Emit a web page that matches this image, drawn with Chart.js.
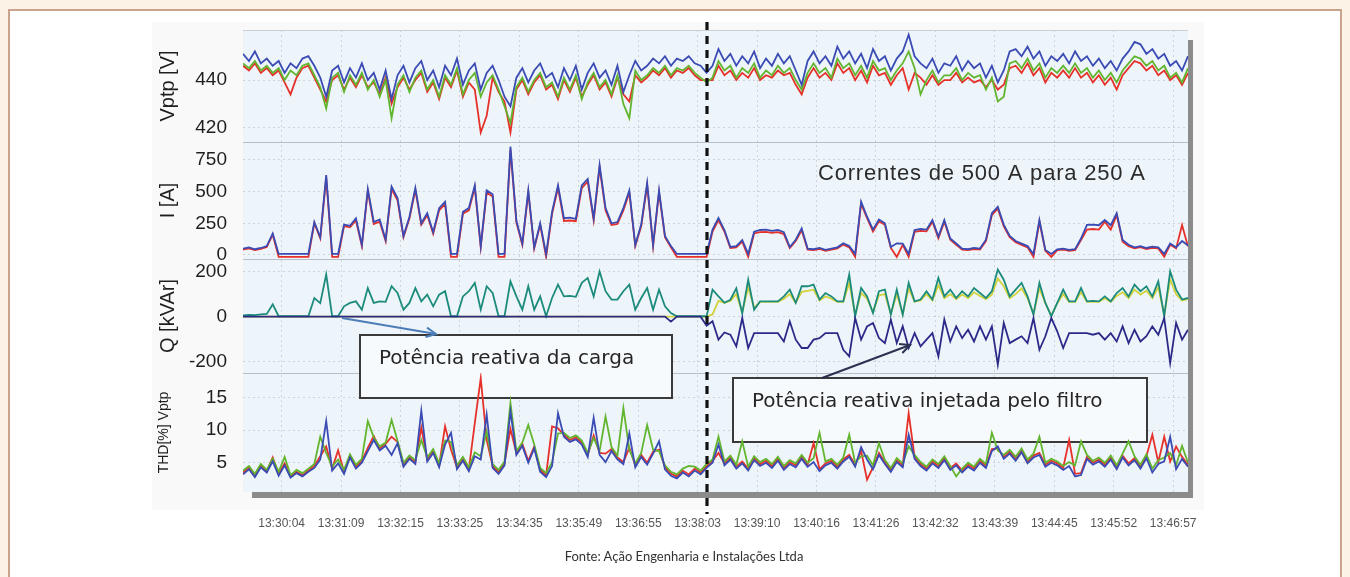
<!DOCTYPE html>
<html>
<head>
<meta charset="utf-8">
<script src="https://cdn.jsdelivr.net/npm/chart.js@4.4.1/dist/chart.umd.min.js"></script>
<style>
  html, body { margin: 0; padding: 0; }
  body { width: 1350px; height: 577px; background: #fcf2e6; position: relative; overflow: hidden; }
  #frame { position: absolute; left: 8px; top: 9px; width: 1330px; height: 600px; background: #fff; border: 2px solid #c9a38b; }
  #plot { position: absolute; left: 0; top: 0; }
  #fonte { position: absolute; left: 0; width: 1368px; top: 548px; text-align: center; font: 13px Lato, "Open Sans", sans-serif; color: #333; }
</style>
</head>
<body>
<div id="frame"></div>
<canvas id="plot" width="1350" height="577"></canvas>
<div id="fonte">Fonte: Ação Engenharia e Instalações Ltda</div>
<script>
// Time axis: one sample every few seconds, a time stamp every 10 samples
const timeLabels = ['13:30:04', '13:31:09', '13:32:15', '13:33:25', '13:34:35', '13:35:49', '13:36:55', '13:38:03',
                    '13:39:10', '13:40:16', '13:41:26', '13:42:32', '13:43:39', '13:44:45', '13:45:52', '13:46:57'];
const firstLabelAt = 6.5;
const labelEvery = 10;
const switchAt = 78.1;           // sample where the filter is switched on

// Phase-to-phase voltage [V]
const vptpA = [
  446, 444, 447, 443, 445, 442, 444, 439, 434, 441,
  445, 446, 441, 436, 431, 440, 442, 436, 441, 437,
  442, 437, 439, 434, 441, 430, 437, 441, 436, 440,
  443, 435, 439, 432, 441, 437, 444, 433, 439, 436,
  418, 425, 441, 435, 431, 418, 436, 440, 434, 439,
  442, 436, 438, 432, 440, 435, 441, 433, 438, 442,
  436, 439, 433, 441, 434, 431, 442, 439, 441, 444,
  442, 445, 441, 444, 443, 445, 442, 440, 440, 440,
  446, 442, 444, 440, 443, 441, 445, 440, 442, 441,
  444, 442, 443, 438, 434, 441, 445, 441, 443, 440,
  447, 443, 445, 440, 444, 439, 446, 442, 443, 438,
  442, 445, 436, 443, 441, 438, 442, 438, 440, 440,
  443, 439, 441, 439, 440, 437, 440, 436, 438, 445,
  446, 443, 447, 442, 445, 439, 443, 441, 444, 441,
  445, 441, 443, 439, 442, 438, 441, 436, 442, 445,
  448, 447, 444, 446, 442, 444, 440, 442, 438, 443
];
const vptpB = [
  447, 445, 448, 444, 446, 443, 445, 440, 444, 442,
  446, 447, 442, 437, 428, 441, 443, 435, 442, 438,
  443, 436, 440, 433, 440, 424, 438, 442, 435, 441,
  444, 436, 440, 433, 442, 438, 445, 434, 440, 443,
  433, 439, 442, 436, 429, 422, 437, 441, 435, 440,
  443, 437, 439, 433, 441, 436, 442, 432, 439, 443,
  437, 440, 434, 442, 430, 424, 444, 440, 442, 445,
  443, 446, 442, 445, 444, 446, 443, 441, 439, 441,
  448, 444, 446, 441, 445, 443, 447, 441, 444, 442,
  446, 443, 445, 440, 436, 443, 447, 443, 445, 441,
  449, 445, 447, 442, 446, 441, 448, 444, 445, 440,
  444, 447, 452, 445, 434, 440, 444, 439, 442, 442,
  445, 440, 443, 441, 442, 436, 441, 431, 433, 447,
  448, 445, 449, 444, 447, 441, 445, 443, 446, 443,
  447, 443, 445, 441, 444, 440, 443, 439, 444, 447,
  450, 449, 446, 448, 444, 446, 441, 443, 439, 445
];
const vptpC = [
  451, 448, 452, 447, 449, 446, 448, 443, 447, 445,
  449, 450, 446, 441, 433, 444, 446, 439, 445, 441,
  447, 440, 443, 436, 444, 432, 442, 446, 439, 445,
  448, 440, 444, 437, 446, 442, 449, 438, 444, 447,
  436, 443, 446, 440, 433, 429, 441, 445, 439, 444,
  447, 441, 443, 437, 445, 440, 446, 436, 443, 447,
  441, 444, 438, 446, 435, 442, 448, 444, 446, 449,
  447, 450, 446, 449, 448, 450, 447, 446, 443, 446,
  453, 448, 451, 446, 450, 447, 452, 445, 449, 446,
  451, 447, 450, 444, 438, 448, 452, 447, 450, 446,
  454, 449, 452, 447, 451, 445, 453, 448, 450, 444,
  449, 452, 459, 450, 447, 445, 449, 443, 447, 446,
  450, 444, 448, 445, 447, 441, 446, 439, 444, 452,
  453, 450, 454, 449, 452, 446, 450, 448, 451, 447,
  452, 448, 450, 446, 449, 445, 448, 444, 449, 452,
  456, 455, 451, 453, 449, 451, 446, 448, 444, 450
];

// Line current [A]
const currA = [
  42, 52, 38, 47, 62, 160, -15, -15, -15, -15,
  -15, -15, 250, 130, 610, -15, -15, 228, 218, 272,
  70, 505, 245, 262, 110, 520, 432, 140, 288, 512,
  238, 315, 168, 352, 402, -15, -15, 325, 352, 532,
  62, 492, 462, -15, -15, 830, 255, 80, 492, 52,
  238, -15, 322, 530, 268, 272, 266, 528, 580, 272,
  690, 352, 236, 245, 352, 492, 70, 226, 550, 70,
  492, 140, 60, -15, -15, -15, -15, -15, -15, 185,
  275, 185, 55, 60, 105, -15, 170, 180, 182, 175,
  180, 165, 55, 110, 195, 42, 38, 47, 32, 42,
  52, 82, 60, -15, 405, 290, 185, 265, 238, 55,
  -15, 80, -15, 182, 190, 186, 262, 132, 262, 120,
  80, 42, 38, 47, 42, 110, 315, 365, 226, 140,
  100, 80, 60, -15, 262, 32, -15, 38, 42, 32,
  38, 118, 200, 205, 200, 262, 200, 315, 105, 70,
  52, 62, 46, 56, 52, -15, 80, 52, 237, 66
];
const currC = [
  50, 60, 45, 55, 70, 170, 8, 8, 8, 8,
  8, 8, 260, 140, 630, 8, 8, 240, 230, 290,
  80, 520, 260, 280, 120, 540, 450, 150, 300, 530,
  250, 330, 180, 370, 420, 8, 8, 340, 370, 550,
  70, 510, 480, 8, 8, 855, 270, 90, 510, 60,
  250, 8, 340, 550, 290, 295, 285, 550, 600, 290,
  710, 370, 250, 260, 370, 510, 80, 240, 570, 80,
  510, 150, 70, 8, 8, 8, 8, 8, 8, 200,
  292, 197, 63, 70, 118, 8, 184, 197, 200, 190,
  197, 180, 63, 120, 210, 50, 45, 55, 40, 50,
  60, 92, 70, 8, 421, 302, 200, 280, 250, 63,
  92, 90, 8, 197, 205, 200, 276, 145, 276, 130,
  90, 50, 45, 55, 50, 120, 329, 381, 240, 150,
  110, 90, 70, 8, 276, 40, 8, 45, 50, 40,
  45, 130, 237, 240, 235, 276, 235, 329, 118, 80,
  60, 70, 55, 65, 60, 8, 90, 60, 110, 75
];

// Reactive power [kVAr]: load, load (second trace) and filter
const qLoad = [
  6, 8, 7, 10, 12, 55, 2, 2, 2, 2,
  2, 2, 83, 60, 187, 2, 2, 46, 61, 68,
  31, 127, 61, 68, 66, 135, 105, 31, 61, 127,
  68, 98, 46, 98, 113, 2, 2, 90, 113, 150,
  31, 135, 105, 2, 2, 157, 90, 31, 135, 31,
  90, 2, 83, 142, 90, 92, 88, 150, 172, 90,
  201, 113, 76, 76, 113, 142, 31, 83, 127, 31,
  120, 46, 16, 2, 2, 2, 2, 2, 2, 120,
  90, 62, 75, 126, 15, 164, 31, 68, 68, 68,
  68, 90, 120, 61, 135, 135, 142, 76, 105, 90,
  68, 68, 187, 2, 127, 90, 16, 113, 120, 9,
  120, 9, 150, 68, 76, 113, 76, 172, 90, 120,
  83, 113, 90, 127, 105, 83, 113, 209, 164, 90,
  120, 150, 90, 9, 150, 61, 2, 61, 120, 68,
  68, 127, 68, 70, 68, 90, 68, 105, 127, 90,
  142, 113, 135, 90, 157, 2, 201, 120, 76, 83
];
const qLoadB = [
  0, 0, 0, 0, 0, 0, 0, 0, 0, 0,
  0, 0, 0, 0, 0, 0, 0, 0, 0, 0,
  0, 0, 0, 0, 0, 0, 0, 0, 0, 0,
  0, 0, 0, 0, 0, 0, 0, 0, 0, 0,
  0, 0, 0, 0, 0, 0, 0, 0, 0, 0,
  0, 0, 0, 0, 0, 0, 0, 0, 0, 0,
  0, 0, 0, 0, 0, 0, 0, 0, 0, 0,
  0, 0, 0, 0, 0, 0, 0, 0, 0, 10,
  70, 62, 70, 100, 20, 130, 40, 66, 66, 66,
  66, 80, 100, 62, 110, 115, 120, 72, 90, 80,
  66, 66, 150, 8, 105, 80, 20, 95, 100, 12,
  100, 12, 125, 66, 72, 100, 72, 140, 82, 100,
  78, 98, 82, 108, 92, 78, 98, 170, 135, 82,
  100, 125, 82, 12, 125, 60, 5, 60, 100, 66,
  66, 108, 66, 67, 66, 82, 66, 92, 108, 82,
  120, 98, 115, 82, 130, 8, 165, 100, 72, 78
];
const qFilter = [
  0, 0, 0, 0, 0, 0, 0, 0, 0, 0,
  0, 0, 0, 0, 0, 0, 0, 0, 0, 0,
  0, 0, 0, 0, 0, 0, 0, 0, 0, 0,
  0, 0, 0, 0, 0, 0, 0, 0, 0, 0,
  0, 0, 0, 0, 0, 0, 0, 0, 0, 0,
  0, 0, 0, 0, 0, 0, 0, 0, 0, 0,
  0, 0, 0, 0, 0, 0, 0, 0, 0, 0,
  0, 0, -22, 0, 0, 0, 0, 0, -40, -20,
  -102, -70, -80, -132, -6, -139, -73, -73, -73, -73,
  -73, -110, -21, -102, -139, -139, -102, -95, -73, -73,
  -73, -147, -176, -6, -102, -43, -28, -95, -117, -13,
  -117, -43, -139, -73, -132, -102, -73, -176, -13, -110,
  -43, -95, -58, -110, -43, -102, -43, -213, -28, -117,
  -102, -87, -117, -6, -147, -87, -6, -65, -139, -73,
  -73, -73, -73, -80, -73, -102, -73, -110, -43, -117,
  -58, -110, -87, -43, -80, -6, -206, -28, -102, -58
];

// Voltage THD [%]
const thdA = [
  3.5, 4.3, 3.0, 4.6, 3.7, 5.8, 3.3, 4.9, 2.9, 3.6,
  3.1, 3.8, 4.5, 6.0, 7.5, 4.1, 6.9, 3.6, 6.1, 4.4,
  5.3, 7.3, 9.1, 7.2, 7.9, 9.0, 8.2, 4.7, 5.9, 5.1,
  10.4, 5.5, 6.8, 4.6, 10.6, 7.0, 4.3, 5.6, 4.0, 11.1,
  18.0, 8.5, 4.5, 3.6, 4.9, 10.2, 6.5, 7.9, 5.3, 7.5,
  3.9, 3.1, 10.6, 10.3, 9.3, 8.5, 8.9, 8.1, 6.2, 9.2,
  6.5, 6.4, 7.1, 5.8, 5.1, 7.3, 4.6, 6.2, 5.0, 6.7,
  7.0, 4.3, 3.3, 2.9, 3.8, 3.2, 4.1, 3.5, 4.5, 5.3,
  6.5, 4.9, 5.8, 4.4, 5.2, 4.1, 5.7, 4.8, 5.3, 4.5,
  5.6, 4.2, 5.1, 4.6, 5.9, 4.7, 8.0, 4.0, 4.9, 5.3,
  4.4, 5.5, 6.2, 4.7, 6.8, 2.4, 4.3, 6.5, 5.1, 3.9,
  5.4, 4.6, 12.6, 5.9, 4.8, 4.1, 5.2, 4.5, 5.7, 4.2,
  4.9, 3.8, 4.7, 4.1, 5.3, 4.5, 7.1, 7.2, 5.9, 6.7,
  5.6, 6.9, 5.2, 6.1, 6.5, 4.7, 5.3, 4.9, 4.2, 8.5,
  3.3, 3.4, 5.9, 5.0, 5.5, 4.7, 5.8, 4.3, 6.1, 4.9,
  5.7, 4.4, 6.0, 9.3, 5.1, 9.0, 5.2, 7.5, 5.9, 4.7
];
const thdB = [
  3.8, 4.5, 3.3, 4.8, 3.9, 5.6, 3.6, 5.9, 3.1, 3.9,
  3.4, 4.1, 4.8, 9.0, 6.5, 4.4, 5.5, 3.9, 6.3, 4.7,
  5.6, 11.4, 8.9, 7.5, 8.1, 11.6, 8.4, 5.0, 6.1, 5.4,
  8.5, 5.8, 7.1, 4.9, 8.4, 8.2, 4.6, 5.9, 4.3, 6.6,
  6.0, 9.8, 4.8, 3.9, 5.2, 14.2, 6.8, 8.1, 10.8, 7.8,
  4.2, 3.4, 5.1, 9.5, 9.6, 8.8, 9.2, 8.4, 6.5, 8.8,
  6.8, 12.1, 7.4, 6.1, 13.4, 7.0, 4.9, 6.5, 10.8, 7.0,
  6.8, 4.6, 3.6, 3.2, 4.1, 4.5, 4.4, 3.8, 4.8, 5.5,
  9.0, 5.2, 6.1, 4.7, 8.3, 4.4, 6.0, 5.1, 5.6, 4.8,
  5.9, 4.5, 5.4, 4.9, 6.2, 5.0, 5.7, 9.6, 5.2, 5.6,
  4.7, 5.8, 9.3, 5.0, 6.0, 6.1, 4.6, 8.0, 5.4, 4.2,
  5.7, 4.9, 7.5, 6.2, 5.1, 4.4, 5.5, 4.8, 6.0, 4.5,
  2.9, 4.1, 5.0, 4.4, 5.6, 4.8, 9.6, 6.9, 6.2, 7.0,
  5.9, 7.2, 5.5, 6.4, 9.0, 5.0, 5.6, 5.2, 4.5, 5.1,
  4.6, 8.3, 6.2, 5.3, 5.8, 5.0, 6.1, 4.6, 6.4, 8.3,
  6.0, 4.7, 6.3, 4.1, 5.4, 5.8, 6.5, 4.6, 7.6, 5.0
];
const thdC = [
  3.2, 4.0, 2.8, 4.3, 3.5, 5.2, 3.0, 4.6, 2.7, 3.4,
  2.9, 3.6, 4.2, 5.5, 11.4, 3.8, 4.9, 3.3, 5.8, 4.1,
  5.0, 6.8, 8.5, 6.9, 7.6, 6.2, 8.0, 4.4, 5.6, 4.8,
  13.0, 5.2, 6.5, 4.3, 7.8, 9.6, 4.0, 5.3, 3.7, 6.0,
  5.5, 12.4, 4.2, 3.3, 4.6, 12.9, 6.2, 7.6, 5.0, 7.2,
  3.6, 2.8, 4.5, 12.6, 9.0, 8.2, 8.6, 7.8, 5.9, 11.9,
  6.2, 5.1, 6.8, 5.5, 4.8, 9.5, 4.3, 5.9, 4.7, 6.4,
  8.3, 4.0, 3.0, 2.6, 3.5, 2.9, 3.8, 3.2, 4.2, 5.0,
  7.8, 4.6, 5.5, 4.1, 4.9, 3.8, 5.4, 4.5, 5.0, 4.2,
  5.3, 3.9, 4.8, 4.3, 5.6, 4.4, 5.1, 3.7, 4.6, 5.0,
  4.1, 5.2, 5.9, 4.4, 7.4, 5.5, 4.0, 6.2, 4.8, 3.6,
  5.1, 4.3, 9.3, 5.6, 4.5, 3.8, 4.9, 4.2, 5.4, 3.9,
  4.6, 3.5, 4.4, 3.8, 5.0, 4.2, 6.8, 7.5, 5.6, 6.4,
  5.3, 6.6, 4.9, 5.8, 6.2, 4.4, 5.0, 4.6, 3.9, 4.5,
  2.9, 3.1, 5.6, 4.7, 5.2, 4.4, 5.5, 4.0, 5.8, 4.6,
  5.4, 4.1, 5.7, 3.5, 4.8, 5.2, 9.0, 4.0, 5.6, 4.4
];

// Axis ticks of each panel
const vptpTicks = [420, 440];
const currTicks = [0, 250, 500, 750];
const qTicks = [-200, 0, 200];
const thdTicks = [5, 10, 15];

const RED = '#e6312a', GREEN = '#62b52f', BLUE = '#3a4bb4';
const TEAL = '#1d8b7c', YELLOW = '#d2d23c', NAVY = '#2c2a88';

const points = values => values.map((y, x) => ({ x, y }));
const line = (values, color, axis) => ({
  data: points(values), borderColor: color, yAxisID: axis,
  borderWidth: 1.8, pointRadius: 0, tension: 0, fill: false
});

const AXIS_WIDTH = 87;
const gridColor = '#cdd4db';
const tickFont = { family: 'Liberation Sans', size: 19 };

function panelAxis(min, max, ticks, title, titleSize, weight, stackWeight) {
  return {
    type: 'linear', position: 'left', stack: 'panels', stackWeight, weight, min, max,
    afterBuildTicks: s => { s.ticks = ticks.map(v => ({ value: v })); },
    afterFit: s => { s.width = AXIS_WIDTH; },
    grid: { color: gridColor, lineWidth: 1, drawTicks: false },
    border: { display: false, dash: [2, 3] },
    ticks: { padding: 16, color: '#1e1e1e', font: tickFont, autoSkip: false, callback: v => String(v) },
    title: { display: true, text: title, color: '#1e1e1e',
             font: { family: 'Liberation Sans', size: titleSize }, padding: { top: 0, bottom: 0 } }
  };
}

function drawArrow(ctx, x0, y0, x1, y1, color) {
  ctx.strokeStyle = color;
  ctx.lineWidth = 2;
  ctx.beginPath(); ctx.moveTo(x0, y0); ctx.lineTo(x1, y1); ctx.stroke();
  const ang = Math.atan2(y1 - y0, x1 - x0), len = 11, spread = 0.45;
  ctx.beginPath();
  ctx.moveTo(x1 - len * Math.cos(ang - spread), y1 - len * Math.sin(ang - spread));
  ctx.lineTo(x1, y1);
  ctx.lineTo(x1 - len * Math.cos(ang + spread), y1 - len * Math.sin(ang + spread));
  ctx.stroke();
}

function noteBox(ctx, x, y, w, h, text, textY) {
  ctx.fillStyle = '#f7fafc';
  ctx.fillRect(x, y, w, h);
  ctx.strokeStyle = '#3a3a3a';
  ctx.lineWidth = 2;
  ctx.strokeRect(x, y, w, h);
  ctx.fillStyle = '#262626';
  ctx.font = '20px "DejaVu Sans"';
  ctx.textBaseline = 'middle';
  ctx.textAlign = 'left';
  ctx.fillText(text, x + 19, textY);
}

// Panel background, drop shadow, separators, notes and the switch-on marker
const decor = {
  id: 'decor',
  beforeDraw(chart) {
    const { ctx, chartArea: a } = chart;
    ctx.save();
    ctx.fillStyle = '#f9f9f9';
    ctx.fillRect(152, 22, 1052, 488);
    ctx.fillStyle = '#8b8b8b';
    ctx.fillRect(a.right, a.top + 10, 5, a.height - 4);
    ctx.fillRect(a.left + 9, a.bottom, a.width - 4, 6);
    ctx.fillStyle = '#eef5fa';
    ctx.fillRect(a.left, a.top, a.width, a.height);
    ctx.restore();
  },
  beforeDatasetsDraw(chart) {
    const { ctx, chartArea: a, scales } = chart;
    ctx.save();
    ctx.lineWidth = 1;
    ctx.strokeStyle = '#c9cfd5';
    ctx.beginPath(); ctx.moveTo(a.left, a.top + 0.5); ctx.lineTo(a.right, a.top + 0.5); ctx.stroke();
    ctx.strokeStyle = '#b7bec5';
    for (const id of ['yI', 'yQ', 'yT']) {
      const y = Math.round(scales[id].top) + 0.5;
      ctx.beginPath(); ctx.moveTo(a.left, y); ctx.lineTo(a.right, y); ctx.stroke();
    }
    noteBox(ctx, 360, 335, 312, 63, 'Potência reativa da carga', 359);
    noteBox(ctx, 733, 378, 414, 64, 'Potência reativa injetada pelo filtro', 402);
    ctx.restore();
  },
  afterDatasetsDraw(chart) {
    const { ctx, scales } = chart;
    ctx.save();
    const x = Math.round(scales.x.getPixelForValue(switchAt));
    ctx.strokeStyle = '#111';
    ctx.lineWidth = 3.2;
    ctx.setLineDash([8, 6]);
    ctx.beginPath(); ctx.moveTo(x, 22); ctx.lineTo(x, 514); ctx.stroke();
    ctx.setLineDash([]);
    drawArrow(ctx, 342, 318, 436, 334, '#4d7db8');
    drawArrow(ctx, 822, 378, 910, 345, '#2b3150');
    ctx.fillStyle = '#2b2b2b';
    ctx.font = '22px "Liberation Sans"';
    ctx.letterSpacing = '0.8px';
    ctx.textBaseline = 'alphabetic';
    ctx.textAlign = 'left';
    ctx.fillText('Correntes de 500 A para 250 A', 818, 180);
    ctx.restore();
  }
};

new Chart(document.getElementById('plot'), {
  type: 'line',
  data: {
    datasets: [
      line(vptpC, BLUE, 'yV'), line(vptpB, GREEN, 'yV'), line(vptpA, RED, 'yV'),
      line(currC, BLUE, 'yI'), line(currA, RED, 'yI'),
      line(qFilter, NAVY, 'yQ'), line(qLoad, TEAL, 'yQ'), line(qLoadB, YELLOW, 'yQ'),
      line(thdC, BLUE, 'yT'), line(thdB, GREEN, 'yT'), line(thdA, RED, 'yT')
    ]
  },
  options: {
    responsive: false,
    devicePixelRatio: 1,
    animation: false,
    events: [],
    layout: { padding: { left: 156, top: 30, right: 162, bottom: 45 } },
    plugins: { legend: { display: false }, tooltip: { enabled: false } },
    scales: {
      x: {
        type: 'linear', min: 0, max: vptpA.length - 1,
        afterBuildTicks: s => { s.ticks = timeLabels.map((_, k) => ({ value: firstLabelAt + k * labelEvery })); },
        afterFit: s => { s.height = 40; },
        grid: { color: gridColor, lineWidth: 1, drawTicks: false },
        border: { display: false, dash: [2, 3] },
        ticks: { padding: 24, color: '#555', maxRotation: 0, autoSkip: false,
                 font: { family: 'Liberation Sans', size: 12 },
                 callback: (v, k) => timeLabels[k] }
      },
      yT: panelAxis(0.5, 18.8, thdTicks, 'THD[%] Vptp', 14, 1, 119),
      yQ: panelAxis(-250, 256, qTicks, 'Q [kVAr]', 20, 2, 114),
      yI: panelAxis(-32, 892, currTicks, 'I [A]', 20, 3, 117),
      yV: panelAxis(414, 461, vptpTicks, 'Vptp [V]', 20, 4, 112)
    }
  },
  plugins: [decor]
});
</script>
</body>
</html>
